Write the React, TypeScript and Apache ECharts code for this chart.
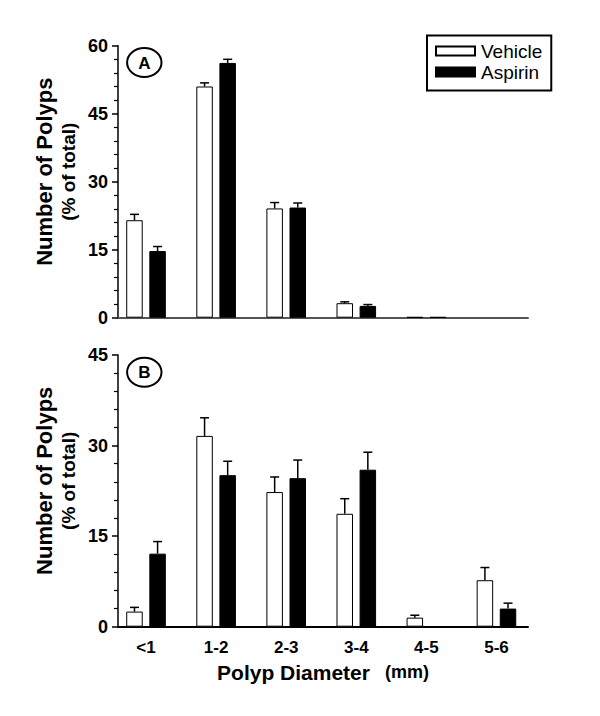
import React, { useEffect, useRef } from 'react';
import * as echarts from 'echarts';

const categories = ['<1', '1-2', '2-3', '3-4', '4-5', '5-6'];

const vehicleA = [21.5, 51.0, 24.1, 3.2, 0.15, 0];
const vehicleAErr = [1.3, 0.8, 1.3, 0.3, 0, 0];
const aspirinA = [14.7, 56.2, 24.3, 2.6, 0.15, 0];
const aspirinAErr = [1.0, 0.8, 1.0, 0.3, 0, 0];

const vehicleB = [2.5, 31.6, 22.3, 18.7, 1.5, 7.7];
const vehicleBErr = [0.7, 3.0, 2.5, 2.5, 0.4, 2.1];
const aspirinB = [12.1, 25.1, 24.6, 26.0, 0, 3.0];
const aspirinBErr = [2.0, 2.3, 3.0, 2.9, 0, 0.9];

const yMaxA = 60;
const yMaxB = 45;
const yInterval = 15;

const FONT = '"Liberation Sans", Arial, Helvetica, sans-serif';
const BAR_W = 16.5;
const BAR_GAP = 0.4;
const HALF_OFFSET = (BAR_W + BAR_W * BAR_GAP) / 2;

function barSeries(name: string, vals: number[], grid: number, fill: string) {
  return {
    type: 'bar',
    name,
    xAxisIndex: grid,
    yAxisIndex: grid,
    barWidth: BAR_W,
    barGap: BAR_GAP * 100 + '%',
    data: vals.map((v, i) => [i, v > 0 ? v : '-']),
    itemStyle: { color: fill, borderColor: '#000', borderWidth: 1 },
    z: 2,
  };
}

function errSeries(vals: number[], errs: number[], grid: number, side: number) {
  return {
    type: 'custom',
    xAxisIndex: grid,
    yAxisIndex: grid,
    data: vals.map((v, i) => [i, v, errs[i]]),
    encode: { x: 0, y: 1 },
    z: 3,
    silent: true,
    renderItem: (params: any, api: any) => {
      const x = api.value(0);
      const y = api.value(1);
      const e = api.value(2);
      if (!(e > 0)) return { type: 'group', children: [] };
      const p0 = api.coord([x, y]);
      const p1 = api.coord([x, y + e]);
      const cx = p0[0] + side * HALF_OFFSET;
      const st = { stroke: '#000', lineWidth: 1.5 };
      return {
        type: 'group',
        children: [
          { type: 'line', shape: { x1: cx, y1: p0[1], x2: cx, y2: p1[1] }, style: st },
          { type: 'line', shape: { x1: cx - 4.5, y1: p1[1], x2: cx + 4.5, y2: p1[1] }, style: st },
        ],
      };
    },
  };
}

function xAxis(grid: number, showLabels: boolean, lineColor: string) {
  return {
    type: 'value',
    gridIndex: grid,
    min: -0.4,
    max: 5.45,
    splitLine: { show: false },
    axisTick: { show: false },
    axisLine: { show: true, onZero: false, lineStyle: { color: lineColor, width: 2 } },
    axisLabel: {
      show: showLabels,
      customValues: [0, 1, 2, 3, 4, 5],
      formatter: (v: number) => categories[Math.round(v)] ?? '',
      fontFamily: FONT,
      fontWeight: 'bold',
      fontSize: 17,
      color: '#000',
      margin: 12,
    },
    name: showLabels ? '{a|Polyp Diameter}{b|   (mm)}' : '',
    nameLocation: 'middle',
    nameGap: 35,
    nameTextStyle: {
      rich: {
        a: { fontFamily: FONT, fontWeight: 'bold', fontSize: 21, color: '#000' },
        b: { fontFamily: FONT, fontWeight: 'bold', fontSize: 18, color: '#000' },
      },
    },
  };
}

function yAxis(grid: number, max: number) {
  return {
    type: 'value',
    gridIndex: grid,
    min: 0,
    max,
    interval: yInterval,
    splitLine: { show: false },
    axisLine: { show: true, onZero: false, lineStyle: { color: '#000', width: 1.5 } },
    axisTick: { show: true, length: 6, lineStyle: { color: '#000', width: 1.5 } },
    minorTick: { show: true, splitNumber: 5, length: 4, lineStyle: { color: '#000', width: 1.2 } },
    axisLabel: { fontFamily: FONT, fontWeight: 'bold', fontSize: 18, color: '#000', margin: 10 },
  };
}

function yTitle(cy: number) {
  return [
    {
      type: 'text',
      x: 44,
      y: cy,
      rotation: Math.PI / 2,
      style: {
        text: 'Number of Polyps',
        fontFamily: FONT,
        fontWeight: 'bold',
        fontSize: 22,
        fill: '#000',
        align: 'center',
        verticalAlign: 'middle',
      },
    },
    {
      type: 'text',
      x: 68.5,
      y: cy,
      rotation: Math.PI / 2,
      style: {
        text: '(% of total)',
        fontFamily: FONT,
        fontWeight: 'bold',
        fontSize: 19,
        fill: '#000',
        align: 'center',
        verticalAlign: 'middle',
      },
    },
  ];
}

function panelBadge(letter: string, cy: number) {
  return [
    {
      type: 'ellipse',
      shape: { cx: 144.3, cy, rx: 17.2, ry: 14.5 },
      style: { fill: 'none', stroke: '#000', lineWidth: 2 },
    },
    {
      type: 'text',
      x: 144.3,
      y: cy + 0.5,
      style: {
        text: letter,
        fontFamily: FONT,
        fontWeight: 'bold',
        fontSize: 17,
        fill: '#000',
        align: 'center',
        verticalAlign: 'middle',
      },
    },
  ];
}

export default function App() {
  const ref = useRef<HTMLDivElement>(null);
  useEffect(() => {
    if (!ref.current) return;
    const chart = echarts.init(ref.current, undefined, { renderer: 'svg' });
    chart.setOption({
      animation: false,
      backgroundColor: '#fff',
      grid: [
        { left: 118, top: 45.7, width: 410, height: 272 },
        { left: 118, top: 355, width: 410, height: 271.7 },
      ],
      xAxis: [xAxis(0, false, '#555'), xAxis(1, true, '#000')],
      yAxis: [yAxis(0, yMaxA), yAxis(1, yMaxB)],
      legend: {
        data: ['Vehicle', 'Aspirin'],
        orient: 'vertical',
        left: 427,
        top: 35.5,
        padding: [6, 9, 9, 8],
        itemWidth: 39,
        itemHeight: 9,
        itemGap: 2,
        borderColor: '#000',
        borderWidth: 2,
        borderRadius: 0,
        icon: 'rect',
        selectedMode: false,
        textStyle: { fontFamily: FONT, fontSize: 19, color: '#000', padding: [0, 0, 0, 1] },
      },
      graphic: [
        ...panelBadge('A', 62.5),
        ...panelBadge('B', 372.2),
        ...yTitle(171.7),
        ...yTitle(480.8),
      ],
      series: [
        barSeries('Vehicle', vehicleA, 0, '#fff'),
        barSeries('Aspirin', aspirinA, 0, '#000'),
        barSeries('Vehicle', vehicleB, 1, '#fff'),
        barSeries('Aspirin', aspirinB, 1, '#000'),
        errSeries(vehicleA, vehicleAErr, 0, -1),
        errSeries(aspirinA, aspirinAErr, 0, 1),
        errSeries(vehicleB, vehicleBErr, 1, -1),
        errSeries(aspirinB, aspirinBErr, 1, 1),
      ],
    });
    return () => chart.dispose();
  }, []);
  return (
    <div
      ref={ref}
      style={{ position: 'absolute', left: 0, top: 0, width: 600, height: 716, background: '#fff' }}
    />
  );
}
